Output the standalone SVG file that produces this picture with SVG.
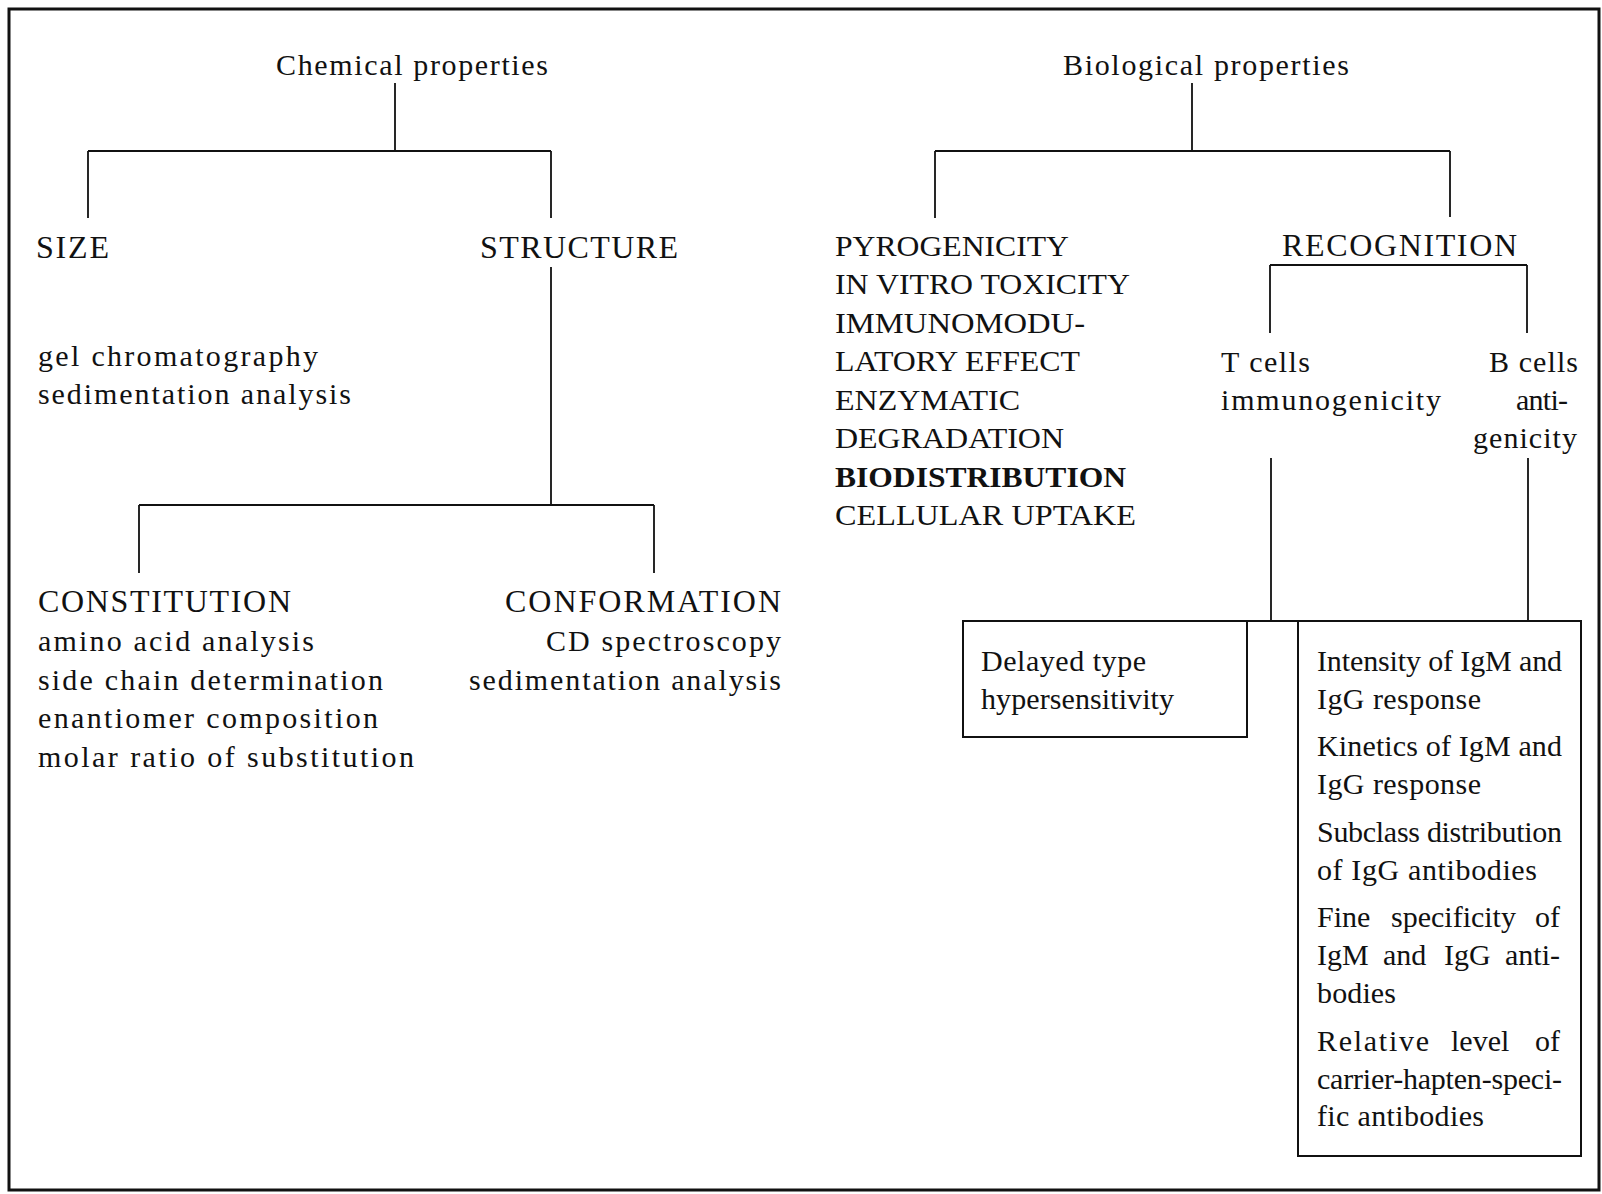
<svg xmlns="http://www.w3.org/2000/svg" width="1602" height="1194" viewBox="0 0 1602 1194">
<style>
text{font-family:"Liberation Serif","Times New Roman",serif;font-size:30px;fill:#111;}
.h{font-size:32px;}
.b{font-weight:bold;}
.ln{stroke:#111;stroke-width:1.8;fill:none;}
.box{stroke:#111;stroke-width:2;fill:none;}
.frame{stroke:#111;stroke-width:3;fill:none;}
</style>
<rect width="1602" height="1194" fill="#fff"/>
<rect class="frame" x="9" y="9" width="1590" height="1181"/>
<g id="connectors">
<path class="ln" d="M395 83V151M88 151H551M88 151V218M551 151V218M551 267V505M139 505H654M139 505V573M654 505V573"/>
<path class="ln" d="M1192 83V151M935 151H1450M935 151V218M1450 151V217M1270 265H1527M1270 265V333M1527 265V333M1271 458V621M1528 458V621M1247 621H1298"/>
</g>
<g id="chemical">
<text x="276" y="75" textLength="272" lengthAdjust="spacing">Chemical properties</text>
</g>
<g id="size">
<text class="h" x="36" y="258" textLength="73" lengthAdjust="spacing">SIZE</text>
<text x="38" y="366" textLength="280" lengthAdjust="spacing">gel chromatography</text>
<text x="38" y="404" textLength="313" lengthAdjust="spacing">sedimentation analysis</text>
</g>
<g id="structure">
<text class="h" x="480" y="258" textLength="198" lengthAdjust="spacing">STRUCTURE</text>
</g>
<g id="constitution">
<text class="h" x="38" y="612" textLength="253" lengthAdjust="spacing">CONSTITUTION</text>
<text x="38" y="651" textLength="276" lengthAdjust="spacing">amino acid analysis</text>
<text x="38" y="690" textLength="345" lengthAdjust="spacing">side chain determination</text>
<text x="38" y="728" textLength="340" lengthAdjust="spacing">enantiomer composition</text>
<text x="38" y="767" textLength="376" lengthAdjust="spacing">molar ratio of substitution</text>
</g>
<g id="conformation">
<text class="h" x="505" y="612" textLength="276" lengthAdjust="spacing">CONFORMATION</text>
<text x="546" y="651" textLength="235" lengthAdjust="spacing">CD spectroscopy</text>
<text x="469" y="690" textLength="312" lengthAdjust="spacing">sedimentation analysis</text>
</g>
<g id="biological">
<text x="1063" y="75" textLength="286" lengthAdjust="spacing">Biological properties</text>
</g>
<g id="effects">
<text x="835" y="256" textLength="234" lengthAdjust="spacingAndGlyphs">PYROGENICITY</text>
<text x="835" y="294" textLength="295" lengthAdjust="spacingAndGlyphs">IN VITRO TOXICITY</text>
<text x="835" y="333" textLength="250" lengthAdjust="spacingAndGlyphs">IMMUNOMODU-</text>
<text x="835" y="371" textLength="245" lengthAdjust="spacingAndGlyphs">LATORY EFFECT</text>
<text x="835" y="410" textLength="185" lengthAdjust="spacingAndGlyphs">ENZYMATIC</text>
<text x="835" y="448" textLength="229" lengthAdjust="spacingAndGlyphs">DEGRADATION</text>
<text class="b" x="835" y="487" textLength="291" lengthAdjust="spacingAndGlyphs">BIODISTRIBUTION</text>
<text x="835" y="525" textLength="301" lengthAdjust="spacingAndGlyphs">CELLULAR UPTAKE</text>
</g>
<g id="recognition">
<text class="h" x="1282" y="256" textLength="235" lengthAdjust="spacing">RECOGNITION</text>
</g>
<g id="tcells">
<text x="1221" y="372" textLength="89" lengthAdjust="spacing">T cells</text>
<text x="1221" y="410" textLength="220" lengthAdjust="spacing">immunogenicity</text>
</g>
<g id="bcells">
<text x="1489" y="372" textLength="89" lengthAdjust="spacing">B cells</text>
<text x="1516" y="410" textLength="52" lengthAdjust="spacing">anti-</text>
<text x="1473" y="448" textLength="104" lengthAdjust="spacing">genicity</text>
</g>
<g id="delayed">
<rect class="box" x="963" y="621" width="284" height="116"/>
<text x="981" y="671" textLength="165" lengthAdjust="spacing">Delayed type</text>
<text x="981" y="709" textLength="193" lengthAdjust="spacing">hypersensitivity</text>
</g>
<g id="antibody-response">
<rect class="box" x="1298" y="621" width="283" height="535"/>
<text x="1317" y="671" textLength="245" lengthAdjust="spacing">Intensity of IgM and</text>
<text x="1317" y="709" textLength="164" lengthAdjust="spacing">IgG response</text>
<text x="1317" y="756" textLength="245" lengthAdjust="spacing">Kinetics of IgM and</text>
<text x="1317" y="794" textLength="164" lengthAdjust="spacing">IgG response</text>
<text x="1317" y="842" textLength="245" lengthAdjust="spacing">Subclass distribution</text>
<text x="1317" y="880" textLength="220" lengthAdjust="spacing">of IgG antibodies</text>
<text y="927"><tspan x="1317">Fine</tspan><tspan x="1391">specificity</tspan><tspan x="1535">of</tspan></text>
<text y="965"><tspan x="1317">IgM</tspan><tspan x="1383">and</tspan><tspan x="1444">IgG</tspan><tspan x="1505">anti-</tspan></text>
<text x="1317" y="1003" textLength="79" lengthAdjust="spacing">bodies</text>
<text y="1051"><tspan x="1317" textLength="112" lengthAdjust="spacing">Relative</tspan><tspan x="1451">level</tspan><tspan x="1535">of</tspan></text>
<text x="1317" y="1089" textLength="245" lengthAdjust="spacing">carrier-hapten-speci-</text>
<text x="1317" y="1126" textLength="167" lengthAdjust="spacing">fic antibodies</text>
</g>
</svg>
